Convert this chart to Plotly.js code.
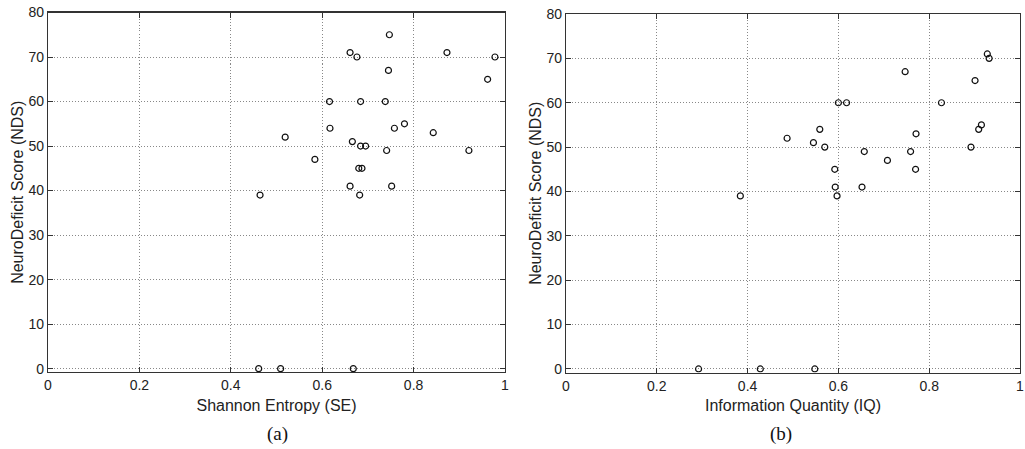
<!DOCTYPE html>
<html>
<head>
<meta charset="utf-8">
<script src="https://cdn.plot.ly/plotly-3.0.1.min.js"></script>
<style>html,body{margin:0;padding:0;background:#fff;}#chart{width:1025px;height:449px;}</style>
</head>
<body>
<div id="chart"></div>
<script>
// (a) Shannon Entropy vs NDS
const seX = [0.747, 0.661, 0.676, 0.873, 0.978, 0.745, 0.962, 0.616, 0.684, 0.738,
             0.617, 0.758, 0.780, 0.843, 0.519, 0.666, 0.684, 0.695, 0.741, 0.921,
             0.584, 0.680, 0.687, 0.661, 0.752, 0.464, 0.682, 0.461, 0.509, 0.668];
const seY = [75, 71, 70, 71, 70, 67, 65, 60, 60, 60,
             54, 54, 55, 53, 52, 51, 50, 50, 49, 49,
             47, 45, 45, 41, 41, 39, 39, 0, 0, 0];
// (b) Information Quantity vs NDS
const iqX = [0.928, 0.932, 0.747, 0.901, 0.600, 0.618, 0.827, 0.559, 0.909, 0.915,
             0.771, 0.487, 0.545, 0.570, 0.892, 0.657, 0.759, 0.708, 0.592, 0.770,
             0.593, 0.652, 0.384, 0.597, 0.292, 0.428, 0.548];
const iqY = [71, 70, 67, 65, 60, 60, 60, 54, 54, 55,
             53, 52, 51, 50, 50, 49, 49, 47, 45, 45,
             41, 41, 39, 39, 0, 0, 0];

const xTicks = [0, 0.2, 0.4, 0.6, 0.8, 1];
const xTickText = ['0', '0.2', '0.4', '0.6', '0.8', '1'];
const yTicks = [0, 10, 20, 30, 40, 50, 60, 70, 80];
const yTickText = yTicks.map(String);
const xTitleA = 'Shannon Entropy (SE)';
const xTitleB = 'Information Quantity (IQ)';
const yTitle = 'NeuroDeficit Score (NDS)';
const captions = ['(a)', '(b)'];

const marker = {symbol: 'circle-open', size: 6, color: '#111', line: {width: 1.2, color: '#111'}};
const traces = [
  {x: seX, y: seY, type: 'scatter', mode: 'markers', marker: marker, xaxis: 'x', yaxis: 'y', showlegend: false},
  {x: iqX, y: iqY, type: 'scatter', mode: 'markers', marker: marker, xaxis: 'x2', yaxis: 'y2', showlegend: false}
];

const tickFont = {family: 'Liberation Sans, Arial, sans-serif', size: 14, color: '#222'};
const titleFont = {family: 'Liberation Sans, Arial, sans-serif', size: 16, color: '#222'};

function xax(domain, title, anchor) {
  return {
    domain: domain, anchor: anchor, range: [0, 1], tickvals: xTicks, ticktext: xTickText,
    ticks: 'inside', ticklen: 5, tickcolor: '#333', mirror: 'ticks',
    showline: true, linecolor: '#333', linewidth: 1.2,
    showgrid: true, gridcolor: '#888', gridwidth: 1, griddash: '1px,2px',
    zeroline: false, tickfont: tickFont, automargin: false,
    title: {text: title, font: titleFont, standoff: 7}
  };
}
function yax(domain, anchor, bottom) {
  return {
    domain: domain, anchor: anchor, range: [bottom, 80], tickvals: yTicks, ticktext: yTickText,
    ticks: 'inside', ticklen: 5, tickcolor: '#333', mirror: 'ticks',
    showline: true, linecolor: '#333', linewidth: 1.2,
    showgrid: true, gridcolor: '#888', gridwidth: 1, griddash: '1px,2px',
    zeroline: false, tickfont: tickFont, automargin: false,
    title: {text: yTitle, font: titleFont, standoff: 0}
  };
}

const capFont = {family: 'Liberation Serif, Times New Roman, serif', size: 19, color: '#111'};
const layout = {
  width: 1025, height: 449,
  margin: {l: 0, r: 0, t: 0, b: 0},
  paper_bgcolor: '#fff', plot_bgcolor: '#fff',
  xaxis: xax([48/1025, 505/1025], xTitleA, 'y'),
  yaxis: yax([(449-372)/449, (449-12.5)/449], 'x', -0.75),
  xaxis2: xax([566/1025, 1020/1025], xTitleB, 'y2'),
  yaxis2: yax([(449-372.5)/449, (449-14)/449], 'x2', -0.8),
  annotations: [
    {text: captions[0], xref: 'paper', yref: 'paper', x: 277/1025, y: (449-434)/449, showarrow: false,
     font: capFont, xanchor: 'center', yanchor: 'middle'},
    {text: captions[1], xref: 'paper', yref: 'paper', x: 781/1025, y: (449-434)/449, showarrow: false,
     font: capFont, xanchor: 'center', yanchor: 'middle'}
  ]
};

Plotly.newPlot('chart', traces, layout, {displayModeBar: false, staticPlot: true});
</script>
</body>
</html>
